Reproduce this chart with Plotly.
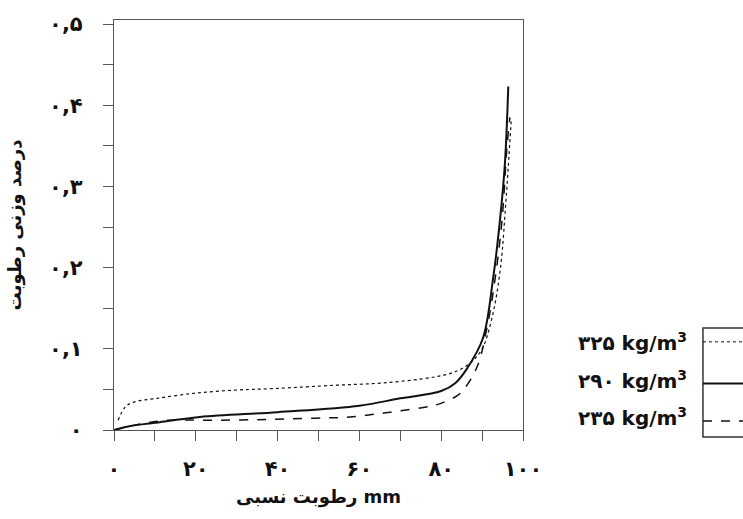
import plotly.graph_objects as go

# Relative humidity (%) vs. moisture content for three densities
rh_325 = [1, 2.7, 4.6, 10.5, 19.3, 29, 39, 53.5, 65.8, 78, 83, 87, 90, 92.5, 94.5, 95.8, 96.6, 97.1]
mc_325 = [0.012, 0.028, 0.034, 0.039, 0.045, 0.049, 0.051, 0.055, 0.058, 0.065, 0.071, 0.082, 0.1, 0.14, 0.2, 0.28, 0.34, 0.38]

rh_290 = [0, 4, 9.5, 21, 40, 60, 70, 80, 83.5, 86.3, 90.2, 92.7, 94.4, 95.6, 96.4]
mc_290 = [0.0, 0.005, 0.0085, 0.016, 0.022, 0.030, 0.039, 0.048, 0.058, 0.0756, 0.113, 0.187, 0.26, 0.33, 0.423]

rh_235 = [0, 5, 13, 23.5, 37.4, 49.6, 57.7, 67.5, 78, 81, 84.6, 88.7, 91.2, 93.2, 94.9, 96.1, 96.8]
mc_235 = [0.0, 0.006, 0.012, 0.012, 0.013, 0.0146, 0.016, 0.022, 0.030, 0.035, 0.045, 0.077, 0.126, 0.187, 0.26, 0.35, 0.385]

x_ticks = [0, 20, 40, 60, 80, 100]
x_labels = ["۰", "۲۰", "۴۰", "۶۰", "۸۰", "۱۰۰"]
x_minor = [10, 30, 50, 70, 90]
y_ticks = [0, 0.1, 0.2, 0.3, 0.4, 0.5]
y_labels = ["۰", "۰,۱", "۰,۲", "۰,۳", "۰,۴", "۰,۵"]
y_minor = [0.05, 0.15, 0.25, 0.35, 0.45]

legend_labels = ["۳۲۵ kg/m<sup>3</sup>", "۲۹۰ kg/m<sup>3</sup>", "۲۳۵ kg/m<sup>3</sup>"]

FONT = "DejaVu Sans"
INK = "#111111"
AXIS = "#555555"

fig = go.Figure()
fig.add_trace(go.Scatter(x=rh_325, y=mc_325, mode="lines", line=dict(color=INK, width=1.2, dash="dot"),
                         line_shape="spline", showlegend=False))
fig.add_trace(go.Scatter(x=rh_290, y=mc_290, mode="lines", line=dict(color=INK, width=2),
                         line_shape="spline", showlegend=False))
fig.add_trace(go.Scatter(x=rh_235, y=mc_235, mode="lines", line=dict(color=INK, width=1.5, dash="dash"),
                         line_shape="spline", showlegend=False))

axis_common = dict(showgrid=False, zeroline=False, showline=True, linecolor=AXIS, linewidth=1.2,
                   mirror=True, ticks="outside", ticklen=10, tickcolor=AXIS, tickwidth=1,
                   tickfont=dict(family=FONT, size=21, color=INK, weight="bold"))

fig.update_xaxes(range=[0, 100], tickvals=x_ticks, ticktext=x_labels, ticklabelstandoff=10,
                 minor=dict(tickvals=x_minor, ticks="outside", ticklen=10, tickcolor=AXIS, tickwidth=1, showgrid=False),
                 title=dict(text="<b>رطوبت نسبی mm</b>", font=dict(family=FONT, size=18, color=INK), standoff=10),
                 **axis_common)
fig.update_yaxes(range=[0, 0.505], tickvals=y_ticks, ticktext=y_labels, ticklabelstandoff=16,
                 minor=dict(tickvals=y_minor, ticks="outside", ticklen=10, tickcolor=AXIS, tickwidth=1, showgrid=False),
                 title=dict(text="<b>درصد وزنی رطوبت</b>", font=dict(family=FONT, size=18, color=INK), standoff=22),
                 **axis_common)

# Legend drawn beside the plot: labels on the left, line samples in a box on the right
box_x0, box_x1 = 1.44, 1.62
fig.add_shape(type="rect", xref="paper", yref="paper", x0=box_x0, x1=box_x1, y0=-0.017, y1=0.249,
              line=dict(color="#333333", width=1.5), fillcolor="white")
sample_y = [0.215, 0.1135, 0.0217]
sample_style = [dict(color=INK, width=1, dash="dot"), dict(color=INK, width=2), dict(color=INK, width=1.5, dash="dash")]
for yy, st in zip(sample_y, sample_style):
    fig.add_shape(type="line", xref="paper", yref="paper", x0=box_x0, x1=box_x1, y0=yy, y1=yy, line=st)
for yy, lab in zip([0.215, 0.123, 0.031], legend_labels):
    fig.add_annotation(xref="paper", yref="paper", x=1.405, y=yy, text="<b>" + lab + "</b>", showarrow=False,
                       xanchor="right", yanchor="middle", font=dict(family=FONT, size=20, color=INK))

fig.update_layout(width=743, height=519, margin=dict(l=114, r=220, t=16, b=89),
                  paper_bgcolor="white", plot_bgcolor="white", font=dict(family=FONT))

fig.write_html("out.html")
